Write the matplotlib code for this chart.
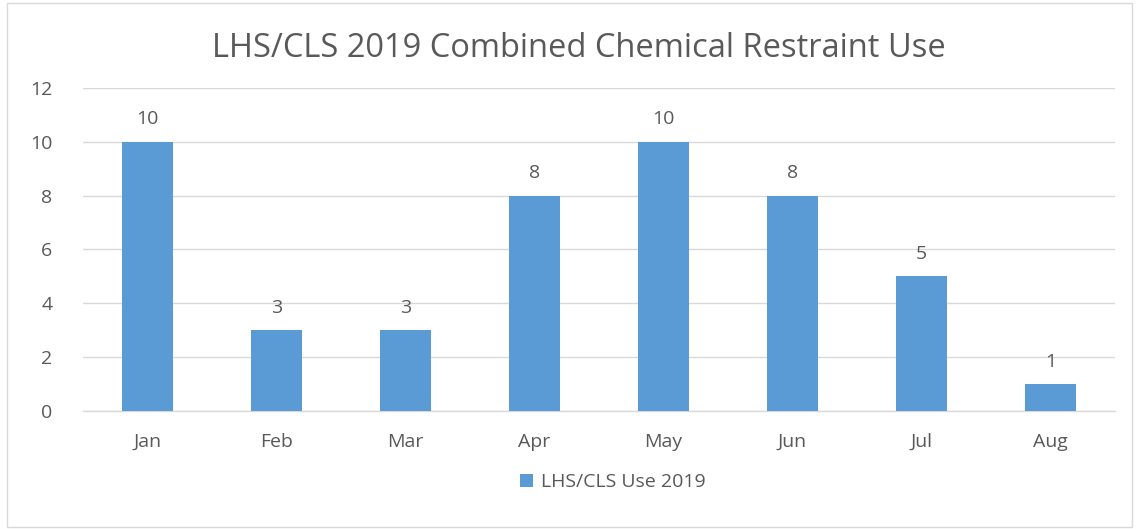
import matplotlib.pyplot as plt
from matplotlib.patches import Rectangle
import numpy as np

months = ["Jan", "Feb", "Mar", "Apr", "May", "Jun", "Jul", "Aug"]
use_2019 = [10, 3, 3, 8, 10, 8, 5, 1]

title = "LHS/CLS 2019 Combined Chemical Restraint Use"
series_label = "LHS/CLS Use 2019"

text_col = "#595959"
bar_col = "#5b9bd5"
grid_col = "#d9d9d9"

plt.rcParams['font.family'] = ['Open Sans', 'DejaVu Sans']

fig = plt.figure(figsize=(11.39, 5.29), dpi=100)
ax = fig.add_axes([0.0729, 0.2231, 0.906, 0.6106])

x = np.arange(len(months))
bars = ax.bar(x, use_2019, width=0.4, color=bar_col, label=series_label, zorder=3)
for xi, v in zip(x, use_2019):
    ax.text(xi, v + 0.5, str(v), ha="center", va="bottom", fontsize=14, color=text_col)

ax.set_xlim(-0.5, len(months) - 0.5)
ax.set_ylim(0, 12)
ax.set_yticks(range(0, 13, 2))
ax.set_xticks(x)
ax.set_xticklabels(months)
ax.tick_params(axis="both", length=0, labelsize=14, colors=text_col)
ax.tick_params(axis="x", pad=16)
ax.tick_params(axis="y", pad=22)
ax.grid(axis="y", color=grid_col, linewidth=1, zorder=0)
for s in ["top", "right", "left"]:
    ax.spines[s].set_visible(False)
ax.spines["bottom"].set_color(grid_col)
ax.spines["bottom"].set_linewidth(1)

fig.text(0.508, 0.908, title, ha="center", va="center", fontsize=23.5, color=text_col)

fig.legend(handles=[bars], labels=[series_label], loc="center", bbox_to_anchor=(0.538, 0.088),
           frameon=False, fontsize=14, labelcolor=text_col, handlelength=0.7, handleheight=0.7,
           handletextpad=0.4)

fig.add_artist(Rectangle((0.006, 0.004), 0.988, 0.99, transform=fig.transFigure,
                         fill=False, edgecolor=grid_col, linewidth=1))

fig.savefig("out.png", dpi=100, facecolor="white")
